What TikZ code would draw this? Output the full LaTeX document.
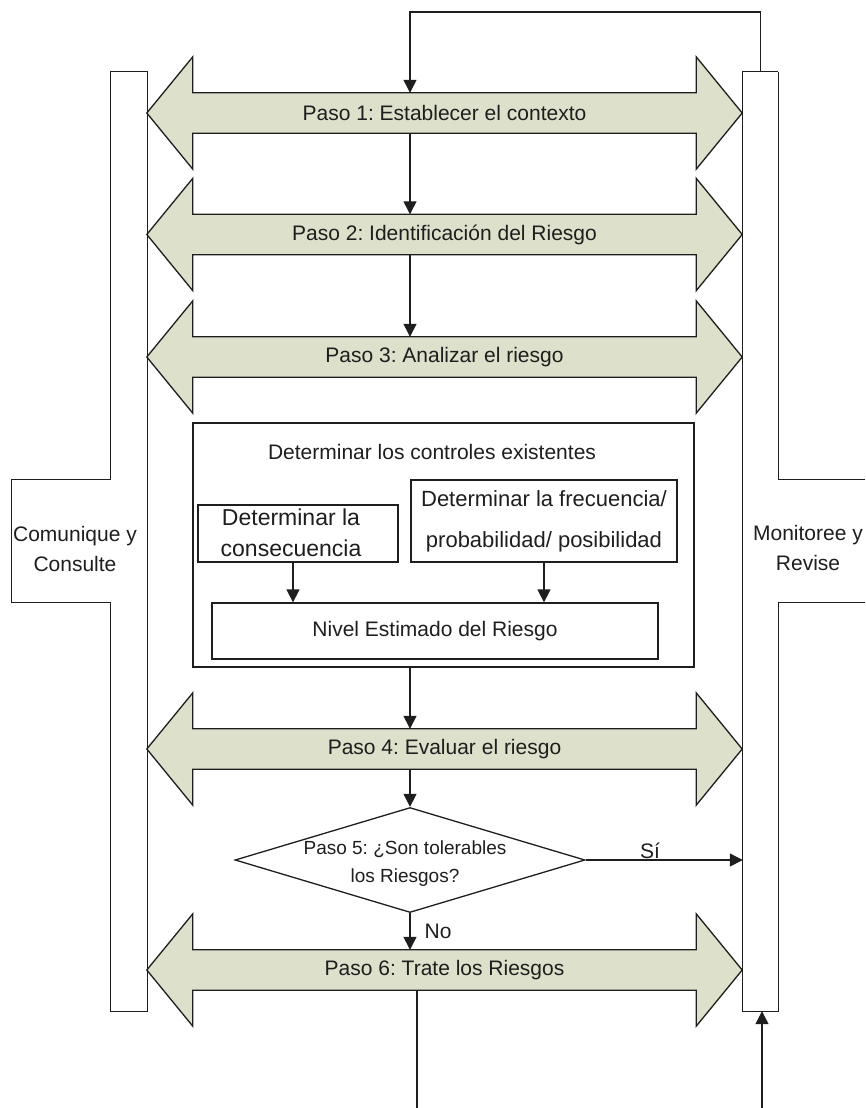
\documentclass[tikz,border=0pt]{standalone}
\usepackage{fontspec}
\setmainfont{Liberation Sans}
\usetikzlibrary{arrows.meta,calc,shapes.geometric,backgrounds}
\definecolor{arrowfill}{RGB}{221,224,203}
\definecolor{ink}{RGB}{30,30,30}
\frenchspacing
\begin{document}
\frenchspacing
\begin{tikzpicture}[x=1pt,y=-1pt,
  font=\fontsize{21}{30}\selectfont,
  shaft/.style={minimum width=503pt,minimum height=40pt,inner sep=0pt,text=ink},
  blk/.style={fill=arrowfill,draw=ink,line width=1.3pt,line join=miter},
  box/.style={draw=ink,line width=1.3pt,inner sep=0pt,text=ink,align=center},
  txt/.style={inner sep=0pt,text=ink,align=center},
  conn/.style={draw=ink,line width=1.3pt,-{Triangle[width=13pt,length=13pt]}},
  plain/.style={draw=ink,line width=1.3pt},
  area/.style={inner sep=0pt}
]
\useasboundingbox (0,0) rectangle (865,1108);

% side bars
\node[area,minimum width=36pt,minimum height=939pt] (lbar) at (129,541.5) {};
\node[area,minimum width=99pt,minimum height=122pt] (lwide) at (61.5,541) {};
\node[area,minimum width=35pt,minimum height=939pt] (rbar) at (760.5,541.5) {};
\node[area,minimum width=87pt,minimum height=122pt] (rwide) at (821.5,541) {};
\draw[plain] (lbar.north west) -- (lbar.north east) -- (lbar.south east) -- (lbar.south west)
  -- (lbar.west |- lwide.south) -- (lwide.south west) -- (lwide.north west)
  -- (lbar.west |- lwide.north) -- cycle;
\draw[plain] (rbar.north east) -- (rbar.east |- rwide.north) -- (rwide.north east);
\draw[plain] (rwide.south east) -- (rbar.east |- rwide.south) -- (rbar.south east)
  -- (rbar.south west) -- (rbar.north west) -- (rbar.north east);
\node[txt] (ltext) at (75,549) {Comunique y\\Consulte};
\node[txt] (rtext) at (808,548) {Monitoree y\\Revise};

% step arrows
\node[shaft] (p1) at (444.5,113) {Paso 1: Establecer el contexto};
\node[shaft] (p2) at (444.5,234.5) {Paso 2: Identificación del Riesgo};
\node[shaft] (p3) at (444.5,357) {Paso 3: Analizar el riesgo};
\node[shaft] (p4) at (444.5,749) {Paso 4: Evaluar el riesgo};
\node[shaft] (p6) at (444.5,970) {Paso 6: Trate los Riesgos};
\begin{scope}[on background layer]
\foreach \n in {p1,p2,p3,p4,p6} {
  \filldraw[blk] ($(\n.west)+(-46,0)$) -- ($(\n.north west)+(0,-36)$) -- (\n.north west)
    -- (\n.north east) -- ($(\n.north east)+(0,-36)$) -- ($(\n.east)+(46,0)$)
    -- ($(\n.south east)+(0,36)$) -- (\n.south east) -- (\n.south west)
    -- ($(\n.south west)+(0,36)$) -- cycle;
}
\end{scope}

% analysis box
\node[box,minimum width=501pt,minimum height=244pt] (ctrl) at (443.5,545) {};
\node[txt] (ctrlt) at (432,452) {Determinar los controles existentes};
\node[box,minimum width=200pt,minimum height=57pt] (cons) at (298,533.5) {};
\node[txt,font=\fontsize{23}{31}\selectfont] (const) at (291,532.5) {Determinar la\\consecuencia};
\node[box,minimum width=266pt,minimum height=82pt,font=\fontsize{22}{41}\selectfont] (freq) at (544,521) {Determinar la frecuencia/\\probabilidad/ posibilidad};
\node[box,minimum width=446pt,minimum height=56pt] (niv) at (435,631) {Nivel Estimado del Riesgo};
\draw[conn] ([xshift=-5pt]cons.south) -- ([xshift=-5pt]cons.south |- niv.north);
\draw[conn] (freq.south) -- (freq.south |- niv.north);

% decision
\node[draw=ink,line width=1.3pt,diamond,aspect=3.33,minimum width=350pt,minimum height=105pt,
  inner sep=0pt] (d5) at (410,860) {};
\node[txt,font=\fontsize{19}{28}\selectfont] (d5t) at (405,864) {Paso 5: ¿Son tolerables\\los Riesgos?};

% connectors
\coordinate (ax) at (410,0);
\coordinate (topy) at (0,12);
\coordinate (out1) at (417,1108);
\coordinate (in1) at (762,1108);
\draw[conn] (rbar.north) -- (rbar.north |- topy) -- (ax |- topy) -- (ax |- p1.north);
\draw[conn] (ax |- p1.south) -- (ax |- p2.north);
\draw[conn] (ax |- p2.south) -- (ax |- p3.north);
\draw[conn] (ax |- ctrl.south) -- (ax |- p4.north);
\draw[conn] (ax |- p4.south) -- (d5.north);
\draw[conn] (d5.south) -- node[right=14pt,inner sep=0pt,text=ink] {No} (ax |- p6.north);
\draw[conn] (d5.east) -- node[pos=0.41,above=1pt,inner sep=0pt,text=ink] {Sí} (d5.east -| rbar.west);
\draw[plain] (p6.south -| out1) -- (out1);
\draw[conn] (in1) -- (in1 |- rbar.south);
\end{tikzpicture}
\end{document}
